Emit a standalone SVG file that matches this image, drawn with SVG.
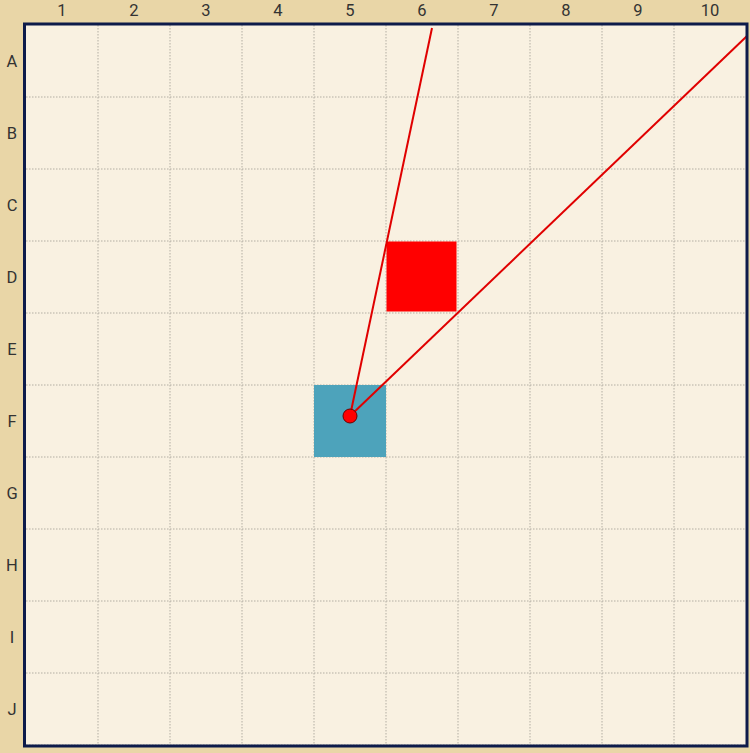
<svg xmlns="http://www.w3.org/2000/svg" width="750" height="753" viewBox="0 0 750 753">
<style>
.lbl{font-family:Roboto,"Liberation Sans",sans-serif;font-size:16.5px;fill:#333;text-anchor:middle;dominant-baseline:central}
.grid line{stroke:#b3aea3;stroke-width:1;stroke-dasharray:1.5 1.5}
.ray{stroke:#e00000;stroke-width:2;fill:none}
</style>
<rect x="0" y="0" width="750" height="753" fill="#e9d6a7"/>
<rect x="24.5" y="24" width="722.5" height="722" fill="#f9f1e1"/>
<g class="grid">
<line x1="98" y1="25" x2="98" y2="746"/><line x1="170" y1="25" x2="170" y2="746"/><line x1="242" y1="25" x2="242" y2="746"/><line x1="314" y1="25" x2="314" y2="746"/><line x1="386" y1="25" x2="386" y2="746"/><line x1="458" y1="25" x2="458" y2="746"/><line x1="530" y1="25" x2="530" y2="746"/><line x1="602" y1="25" x2="602" y2="746"/><line x1="674" y1="25" x2="674" y2="746"/>
<line x1="26" y1="97" x2="746" y2="97"/><line x1="26" y1="169" x2="746" y2="169"/><line x1="26" y1="241" x2="746" y2="241"/><line x1="26" y1="313" x2="746" y2="313"/><line x1="26" y1="385" x2="746" y2="385"/><line x1="26" y1="457" x2="746" y2="457"/><line x1="26" y1="529" x2="746" y2="529"/><line x1="26" y1="601" x2="746" y2="601"/><line x1="26" y1="673" x2="746" y2="673"/><line x1="26" y1="745" x2="746" y2="745"/>
</g>
<g id="observer-cell"><rect x="314" y="385" width="72" height="72" fill="#4da3bb"/></g>
<g id="target-cell"><rect x="386.5" y="241.5" width="70" height="70" fill="#ff0000"/></g>
<g id="connectors">
<line class="ray" x1="350" y1="416" x2="432" y2="28"/>
<line class="ray" x1="350" y1="416" x2="747" y2="36"/>
</g>
<g id="observer"><circle cx="350" cy="416" r="7" fill="#ff0000" stroke="#6a0000" stroke-width="1"/></g>
<rect x="24.5" y="24" width="722.5" height="722" fill="none" stroke="#0d1b4a" stroke-width="3"/>
<g id="col-labels">
<text class="lbl" x="62" y="10.5">1</text><text class="lbl" x="134" y="10.5">2</text><text class="lbl" x="206" y="10.5">3</text><text class="lbl" x="278" y="10.5">4</text><text class="lbl" x="350" y="10.5">5</text><text class="lbl" x="422" y="10.5">6</text><text class="lbl" x="494" y="10.5">7</text><text class="lbl" x="566" y="10.5">8</text><text class="lbl" x="638" y="10.5">9</text><text class="lbl" x="710" y="10.5">10</text>
</g>
<g id="row-labels">
<text class="lbl" x="12" y="61">A</text><text class="lbl" x="12" y="133">B</text><text class="lbl" x="12" y="205">C</text><text class="lbl" x="12" y="277">D</text><text class="lbl" x="12" y="349">E</text><text class="lbl" x="12" y="421">F</text><text class="lbl" x="12" y="493">G</text><text class="lbl" x="12" y="565">H</text><text class="lbl" x="12" y="637">I</text><text class="lbl" x="12" y="709">J</text>
</g>
</svg>
